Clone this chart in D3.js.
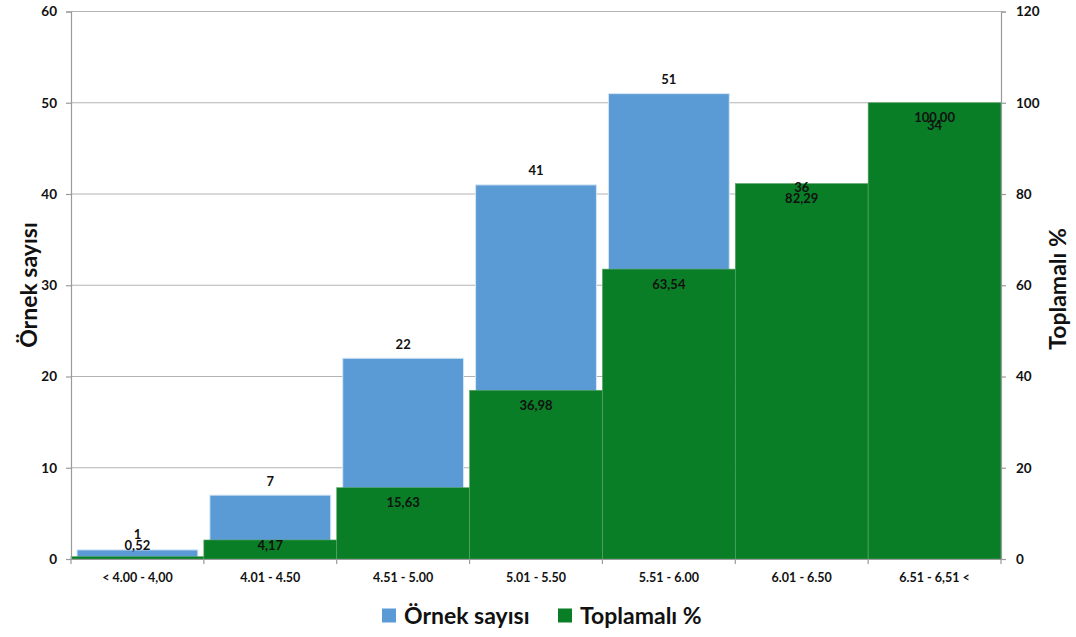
<!DOCTYPE html>
<html>
<head>
<meta charset="utf-8">
<script src="https://cdn.jsdelivr.net/npm/d3@7/dist/d3.min.js"></script>
<style>
  html, body { margin: 0; padding: 0; background: #fff; }
  svg { display: block; font-family: Lato, "Open Sans", sans-serif; font-weight: bold; }
</style>
</head>
<body>
<svg id="chart" width="1076" height="637"></svg>
<script>
// Sample counts per class and their cumulative share (%)
const categories = ["< 4.00 - 4,00", "4.01 - 4.50", "4.51 - 5.00", "5.01 - 5.50", "5.51 - 6.00", "6.01 - 6.50", "6.51 - 6,51 <"];
const counts = [1, 7, 22, 41, 51, 36, 34];
const cumulative = [0.52, 4.17, 15.63, 36.98, 63.54, 82.29, 100.00];
const leftTicks = [0, 10, 20, 30, 40, 50, 60];
const rightTicks = [0, 20, 40, 60, 80, 100, 120];
const seriesNames = ["Örnek sayısı", "Toplamalı %"];

const blue = "#5b9bd5";
const green = "#0a7e26";

const svg = d3.select("#chart");
const plotLeft = 71, plotRight = 1001, plotTop = 11.5, plotBottom = 559;

const x = d3.scaleBand().domain(categories).range([plotLeft, plotRight]).paddingInner(0).paddingOuter(0);
const yL = d3.scaleLinear().domain([0, 60]).range([plotBottom, plotTop]);
const yR = d3.scaleLinear().domain([0, 120]).range([plotBottom, plotTop]);

// Gridlines from the left axis
svg.append("g").selectAll("line").data(leftTicks.filter(d => d > 0)).join("line")
  .attr("x1", plotLeft).attr("x2", plotRight)
  .attr("y1", d => yL(d)).attr("y2", d => yL(d))
  .attr("stroke", "#b3b3b3").attr("stroke-width", 1.2);

// Sample count bars
const inset = 6;
svg.append("g").selectAll("rect").data(counts).join("rect")
  .attr("x", (d, i) => x(categories[i]) + inset)
  .attr("width", x.bandwidth() - inset * 2)
  .attr("y", d => yL(d))
  .attr("height", d => plotBottom - yL(d))
  .attr("fill", blue)
  .attr("stroke", "#d6e6f5").attr("stroke-width", 1);

// Cumulative % bars, full band width, drawn over the counts
svg.append("g").selectAll("rect").data(cumulative).join("rect")
  .attr("x", (d, i) => x(categories[i]))
  .attr("width", x.bandwidth())
  .attr("y", d => yR(d))
  .attr("height", d => plotBottom - yR(d))
  .attr("fill", green)
  .attr("stroke", "#5aa56c").attr("stroke-width", 0.6);

// Axes
const axisColor = "#9a9a9a";
const gL = svg.append("g").attr("transform", `translate(${plotLeft},0)`)
  .call(d3.axisLeft(yL).tickValues(leftTicks).tickSize(5).tickPadding(9));
const gR = svg.append("g").attr("transform", `translate(${plotRight},0)`)
  .call(d3.axisRight(yR).tickValues(rightTicks).tickSize(5).tickPadding(10));
const gB = svg.append("g").attr("transform", `translate(0,${plotBottom})`)
  .call(d3.axisBottom(x).tickSize(0).tickPadding(14));
[gL, gR, gB].forEach(g => {
  g.select(".domain").attr("stroke", axisColor).attr("stroke-width", 1.2);
  g.selectAll(".tick line").attr("stroke", axisColor).attr("stroke-width", 1.2);
  g.selectAll("text").attr("fill", "#111").attr("font-family", "Lato, sans-serif").attr("font-weight", "bold");
});
gL.selectAll("text").attr("font-size", 13.5);
gR.selectAll("text").attr("font-size", 13.5);
gB.selectAll("text").attr("font-size", 12.5);
gB.select(".domain").attr("d", `M${plotLeft},0.5H${plotRight}`);
// Category boundary ticks on the bottom axis
gB.append("g").selectAll("line").data(d3.range(categories.length + 1)).join("line")
  .attr("x1", i => plotLeft + i * x.bandwidth()).attr("x2", i => plotLeft + i * x.bandwidth())
  .attr("y1", 0).attr("y2", 5).attr("stroke", axisColor).attr("stroke-width", 1.2);

// Data labels: cumulative % inside the top of each green bar
const labelSize = 13;
const fmt = v => v.toFixed(2).replace(".", ",");
const greenLabelY = cumulative.map(d => Math.min(yR(d) + 15, plotBottom - 14));
svg.append("g").selectAll("text").data(cumulative).join("text")
  .attr("x", (d, i) => x(categories[i]) + x.bandwidth() / 2)
  .attr("y", (d, i) => greenLabelY[i])
  .attr("dy", "0.35em")
  .attr("text-anchor", "middle")
  .attr("font-size", labelSize)
  .attr("fill", "#111")
  .text(fmt);

// Count labels above the blue bars; where a bar is hidden they sit next to the % label
const countLabelY = counts.map((d, i) => {
  const y = Math.min(yL(d) - 14, greenLabelY[i] - 11);
  return cumulative[i] >= 100 ? greenLabelY[i] + 8 : y;
});
svg.append("g").selectAll("text").data(counts).join("text")
  .attr("x", (d, i) => x(categories[i]) + x.bandwidth() / 2)
  .attr("y", (d, i) => countLabelY[i])
  .attr("dy", "0.35em")
  .attr("text-anchor", "middle")
  .attr("font-size", labelSize)
  .attr("fill", "#111")
  .text(d => d);

// Axis titles
svg.append("text")
  .attr("transform", `translate(37,285) rotate(-90)`)
  .attr("text-anchor", "middle")
  .attr("font-size", 23)
  .attr("fill", "#111")
  .text(seriesNames[0]);
svg.append("text")
  .attr("transform", `translate(1066,289) rotate(-90)`)
  .attr("text-anchor", "middle")
  .attr("font-size", 23)
  .attr("fill", "#111")
  .text(seriesNames[1]);

// Legend
const legendItems = [{ name: seriesNames[0], color: blue, x: 382 }, { name: seriesNames[1], color: green, x: 558 }];
const lg = svg.append("g");
legendItems.forEach(it => {
  lg.append("rect").attr("x", it.x).attr("y", 608.5).attr("width", 14).attr("height", 14).attr("fill", it.color);
  lg.append("text").attr("x", it.x + 22).attr("y", 615.5).attr("dy", "0.35em")
    .attr("font-size", 23).attr("fill", "#111").text(it.name);
});
</script>
</body>
</html>
